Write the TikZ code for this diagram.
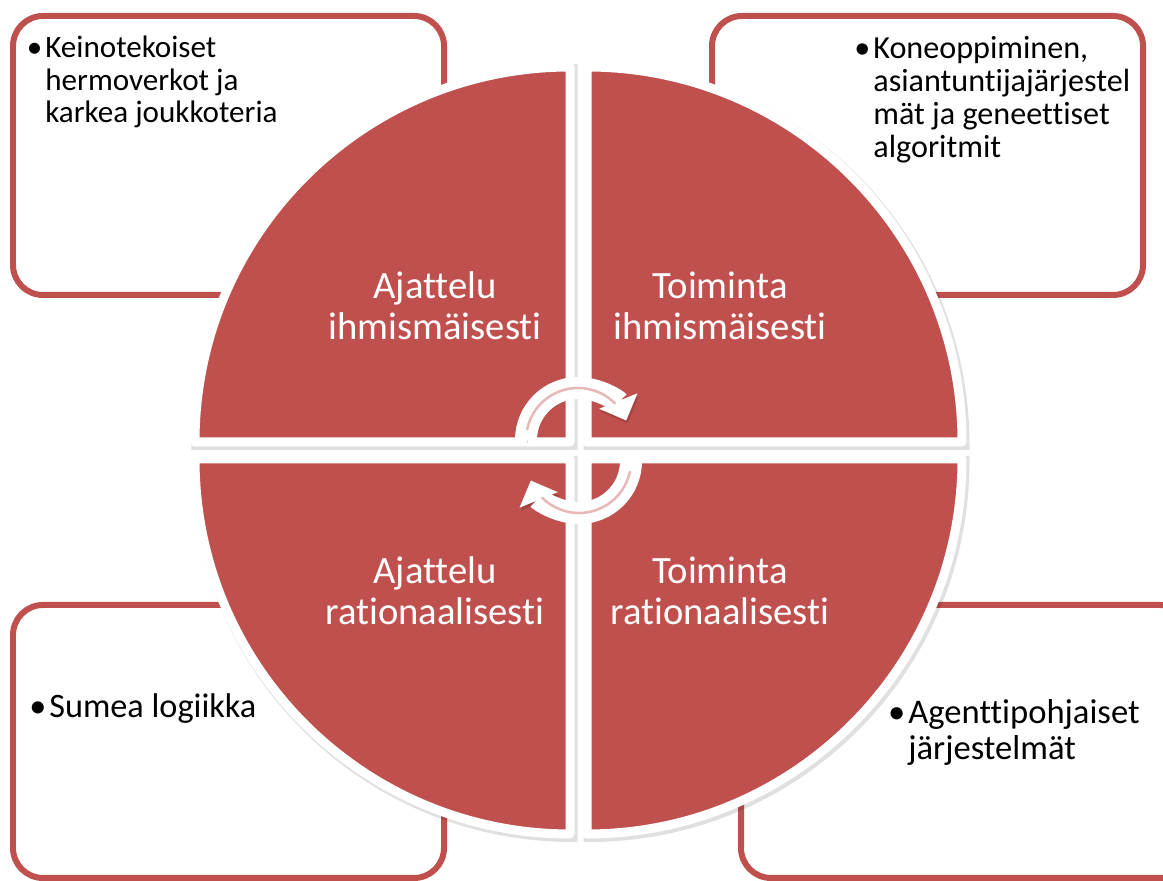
\documentclass[tikz,border=0pt]{standalone}
\usepackage{fontspec}
\setmainfont{Carlito}[Ligatures=NoCommon]
\usetikzlibrary{arrows.meta}
\definecolor{segred}{HTML}{C0504D}
\definecolor{segpink}{HTML}{E6B8B7}

\tikzset{
  notebox/.style={draw=segred, line width=0.12cm, fill=white, rounded corners=0.6cm},
  quarter/.style={fill=segred, draw=white, line width=0.18cm, line join=round,
    preaction={draw=black, opacity=0.12, line width=0.22cm,
      transform canvas={xshift=0.04cm, yshift=-0.05cm}}},
  quartertext/.style={text=white, align=center, anchor=base, inner sep=0pt,
    font=\fontsize{22}{23.8}\selectfont},
  notetext/.style={align=left, anchor=base west, inner sep=0pt},
  cyclearrow/.style={white, line width=0.44cm, -{Triangle[width=0.8cm, length=0.42cm]},
    preaction={draw=black, opacity=0.15, transform canvas={xshift=0.03cm, yshift=-0.06cm}}},
  innerline/.style={segpink, line width=0.05cm, line cap=round}
}

\begin{document}
\begin{tikzpicture}[x=0.02cm, y=0.02cm]
\useasboundingbox (0,0) rectangle (1163,881);

\draw[notebox] (13,586) rectangle (444,865);
\draw[notebox] (712,586) rectangle (1143,865);
\draw[notebox] (13,3) rectangle (444,276);
\draw[notebox] (741,3) rectangle (1190,276);

\node[notetext, font=\fontsize{17.7}{18.7}\selectfont] (keino) at (45,758)
  {\llap{\textbullet\hspace{0.06cm}}Keinotekoiset\\hermoverkot ja\\karkea joukkoteria};
\node[notetext, font=\fontsize{18.3}{18.9}\selectfont] (kone) at (873,723)
  {\llap{\textbullet\hspace{0.06cm}}Koneoppiminen,\\asiantuntijajärjestel\\mät ja geneettiset\\algoritmit};
\node[notetext, font=\fontsize{19.5}{21}\selectfont] (sumea) at (49,163)
  {\llap{\textbullet\hspace{0.06cm}}Sumea logiikka};
\node[notetext, font=\fontsize{19.7}{21}\selectfont] (agentti) at (908,121)
  {\llap{\textbullet\hspace{0.06cm}}Agenttipohjaiset\\järjestelmät};

\draw[quarter] (570,439) -- ++(180:375) arc (180:90:375) -- cycle;
\draw[quarter] (587,439) -- ++(90:375) arc (90:0:375) -- cycle;
\draw[quarter] (570,422) -- ++(180:375) arc (180:270:375) -- cycle;
\draw[quarter] (587,422) -- ++(270:375) arc (270:360:375) -- cycle;

\node[quartertext] (ajih) at (435,541) {Ajattelu\\ihmismäisesti};
\node[quartertext] (toih) at (720,541) {Toiminta\\ihmismäisesti};
\node[quartertext] (ajra) at (435,256) {Ajattelu\\rationaalisesti};
\node[quartertext] (tora) at (720,256) {Toiminta\\rationaalisesti};

\draw[cyclearrow] (578,441) ++(180:52) arc (180:22:52);
\draw[innerline] (578,441) ++(168:52) arc (168:45:52);
\draw[cyclearrow] (579,420) ++(0:52) arc (0:-158:52);
\draw[innerline] (579,420) ++(-12:52) arc (-12:-135:52);
\end{tikzpicture}
\end{document}
